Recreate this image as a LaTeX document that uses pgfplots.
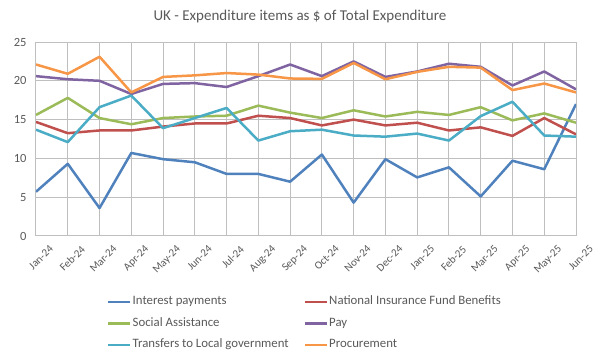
\documentclass[border=0pt]{standalone}
\usepackage{pgfplots}
\pgfplotsset{compat=1.18}
\usepackage{fontspec}
\setmainfont{Carlito}
\definecolor{cBlue}{HTML}{4F81BD}
\definecolor{cRed}{HTML}{C0504D}
\definecolor{cGreen}{HTML}{9BBB59}
\definecolor{cPurple}{HTML}{8064A2}
\definecolor{cCyan}{HTML}{4BACC6}
\definecolor{cOrange}{HTML}{F79646}
\definecolor{txt}{HTML}{595959}
\definecolor{grid}{HTML}{D9D9D9}
\begin{document}
\begin{tikzpicture}[x=1pt,y=1pt]
\useasboundingbox (0,0) rectangle (600,361);
\node[text=txt, font=\fontsize{15}{17}\selectfont] at (300,344) {UK - Expenditure items as \$ of Total Expenditure};
\begin{axis}[
  at={(36pt,125pt)}, anchor=south west,
  scale only axis, width=540pt, height=194pt,
  xmin=0, xmax=17, ymin=0, ymax=25,
  ytick={0,5,...,25},
  xtick={0,...,17},
  xticklabels={Jan-24,Feb-24,Mar-24,Apr-24,May-24,Jun-24,Jul-24,Aug-24,Sep-24,Oct-24,Nov-24,Dec-24,Jan-25,Feb-25,Mar-25,Apr-25,May-25,Jun-25},
  axis line style={draw=none},
  major tick length=0pt,
  ymajorgrids, grid style={grid, line width=1pt},
  /pgf/number format/assume math mode=true,
  tick label style={text=txt, font=\fontsize{12.5}{14}\selectfont},
  yticklabel style={xshift=-6pt},
  xticklabel style={rotate=45, anchor=north east, inner sep=0pt, yshift=-15pt, xshift=3pt, font=\fontsize{11}{13}\selectfont},
  legend columns=2,
  legend style={draw=none, fill=none, inner sep=0pt,
    at={(0.1315,-0.302)}, anchor=north west,
    nodes={inner sep=1pt, text height=9pt, text depth=3pt, text=txt, font=\fontsize{12.8}{14}\selectfont},
    row sep=7.5pt,
    /tikz/every even column/.append style={column sep=14pt}},
  legend cell align=left,
  legend image code/.code={\draw[#1, line width=2.5pt] (0pt,0pt) -- (22pt,0pt);},
  every axis plot/.append style={line width=2.5pt, line join=round, no markers},
]
\addplot[cBlue] coordinates {(0,5.7)(1,9.3)(2,3.6)(3,10.7)(4,9.9)(5,9.5)(6,8.0)(7,8.0)(8,7.0)(9,10.5)(10,4.3)(11,9.9)(12,7.55)(13,8.85)(14,5.1)(15,9.7)(16,8.6)(17,17.0)};
\addlegendentry{Interest payments}
\addplot[cRed] coordinates {(0,14.7)(1,13.25)(2,13.6)(3,13.6)(4,14.1)(5,14.5)(6,14.5)(7,15.5)(8,15.2)(9,14.25)(10,15.0)(11,14.25)(12,14.6)(13,13.6)(14,14.0)(15,12.9)(16,15.2)(17,13.1)};
\addlegendentry{National Insurance Fund Benefits}
\addplot[cGreen] coordinates {(0,15.6)(1,17.8)(2,15.2)(3,14.4)(4,15.2)(5,15.4)(6,15.5)(7,16.8)(8,15.9)(9,15.2)(10,16.2)(11,15.4)(12,16.0)(13,15.6)(14,16.6)(15,14.9)(16,15.8)(17,14.6)};
\addlegendentry{Social Assistance}
\addplot[cPurple] coordinates {(0,20.6)(1,20.2)(2,20.0)(3,18.3)(4,19.6)(5,19.7)(6,19.2)(7,20.6)(8,22.1)(9,20.6)(10,22.5)(11,20.5)(12,21.2)(13,22.2)(14,21.8)(15,19.4)(16,21.2)(17,18.9)};
\addlegendentry{Pay}
\addplot[cCyan] coordinates {(0,13.7)(1,12.1)(2,16.6)(3,18.1)(4,13.9)(5,15.2)(6,16.5)(7,12.3)(8,13.5)(9,13.7)(10,12.95)(11,12.8)(12,13.2)(13,12.3)(14,15.45)(15,17.3)(16,12.95)(17,12.8)};
\addlegendentry{Transfers to Local government}
\addplot[cOrange] coordinates {(0,22.1)(1,20.9)(2,23.1)(3,18.5)(4,20.5)(5,20.7)(6,21.0)(7,20.8)(8,20.3)(9,20.25)(10,22.3)(11,20.2)(12,21.15)(13,21.8)(14,21.7)(15,18.8)(16,19.65)(17,18.5)};
\addlegendentry{Procurement}
\end{axis}
\end{tikzpicture}
\end{document}
